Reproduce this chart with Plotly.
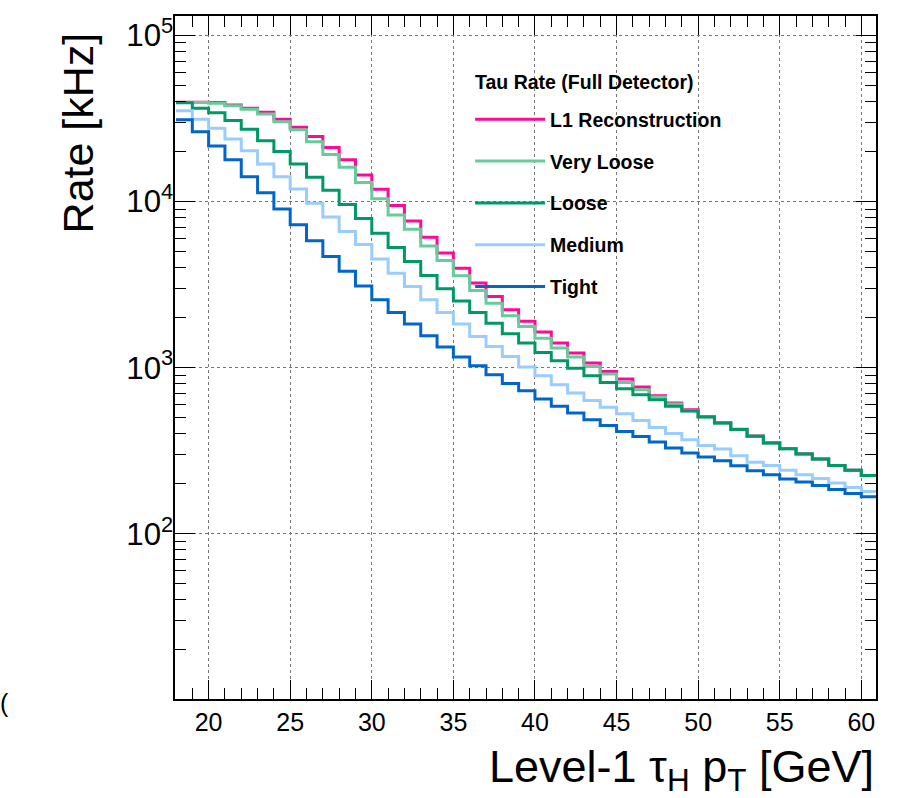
import plotly.graph_objects as go

# Bin lower edges (GeV), 1 GeV bins
bins = list(range(18, 62))

l1_reco = [39600, 39500, 39400, 38100, 36400, 34400, 31200, 28000, 24600, 21100,
           17800, 14450, 11860, 9440, 7640, 6100, 4890, 3970, 3230, 2680,
           2230, 1900, 1640, 1405, 1225, 1066, 948, 854, 764, 678,
           612, 558, 508, 466, 426, 388, 353, 326, 303, 282,
           258, 241, 224, 212]
very_loose = [39400, 39400, 39000, 37600, 35900, 33600, 30200, 27000, 22900, 19200,
              16050, 13000, 10370, 8300, 6810, 5400, 4410, 3570, 2910, 2440,
              2055, 1770, 1505, 1312, 1160, 1016, 915, 815, 736, 665,
              604, 551, 506, 465, 424, 386, 352, 325, 302, 282,
              258, 241, 224, 212]
loose = [39300, 36400, 34200, 30700, 27200, 23200, 19950, 16800, 14000, 11700,
         9600, 7900, 6440, 5280, 4350, 3580, 2980, 2520, 2150, 1850,
         1600, 1405, 1234, 1100, 993, 893, 815, 747, 687, 641,
         585, 548, 505, 464, 424, 386, 352, 325, 302, 282,
         258, 241, 224, 212]
medium = [35100, 31200, 27600, 23800, 20200, 16800, 14100, 11900, 9770, 8050,
          6600, 5500, 4500, 3700, 3080, 2560, 2150, 1830, 1540, 1340,
          1165, 1008, 893, 789, 703, 635, 577, 528, 480, 437,
          401, 368, 340, 324, 295, 270, 258, 241, 227, 215,
          202, 190, 180, 172]
tight = [31000, 26300, 21600, 17800, 14100, 11300, 9000, 7230, 5800, 4660,
         3800, 3100, 2560, 2150, 1830, 1555, 1330, 1160, 1026, 906,
         804, 726, 647, 585, 533, 486, 449, 413, 385, 357,
         328, 306, 290, 275, 257, 240, 227, 214, 205, 195,
         185, 175, 167, 162]

series_names = ["L1 Reconstruction", "Very Loose", "Loose", "Medium", "Tight"]
series_values = [l1_reco, very_loose, loose, medium, tight]
series_colors = ["#FF0A96", "#66CC99", "#009966", "#99CCFF", "#0066CC"]

legend_title = "Tau Rate (Full Detector)"
x_title = "Level-1 τ<sub>H</sub> p<sub>T</sub> [GeV]"
y_title = "Rate [kHz]"

FONT = "Liberation Sans, Arial, Helvetica, sans-serif"

fig = go.Figure()
for name, vals, col in zip(series_names, series_values, series_colors):
    xs = bins + [bins[-1] + 1]
    ys = vals + [vals[-1]]
    fig.add_trace(go.Scatter(
        x=xs, y=ys, mode="lines", name=name, legendgroup=name,
        line=dict(color=col, width=3, shape="hv"),
    ))

axis_common = dict(
    showline=True, linecolor="black", linewidth=1.5, mirror="allticks",
    ticks="inside", tickcolor="black", tickwidth=1,
    showgrid=True, gridcolor="#777777", griddash="dot", gridwidth=1,
    zeroline=False,
    tickfont=dict(family=FONT, size=25, color="black"),
)

fig.update_xaxes(
    range=[17.94, 60.9], tickmode="linear", tick0=20, dtick=5, ticklen=19,
    minor=dict(ticks="inside", ticklen=11, dtick=1, tickcolor="black", showgrid=False),
    **axis_common,
)
fig.update_yaxes(
    type="log", range=[1.006, 5.116], dtick=1, ticklen=20,
    exponentformat="power", ticklabelstandoff=-5,
    minor=dict(ticks="inside", ticklen=11, dtick="D1", tickcolor="black", showgrid=False),
    **axis_common,
)

fig.update_layout(
    width=913, height=798,
    margin=dict(l=175, r=37, t=16, b=99),
    paper_bgcolor="white", plot_bgcolor="white",
    font=dict(family=FONT, color="black"),
    showlegend=True,
    legend=dict(
        x=0.421, y=0.877, xanchor="left", yanchor="top",
        bgcolor="rgba(0,0,0,0)", borderwidth=0,
        font=dict(family=FONT, size=19.5, color="black", weight=700),
        itemwidth=70, tracegroupgap=13.5,
    ),
    annotations=[
        dict(text=legend_title, xref="paper", yref="paper",
             x=0.4253, y=0.9038, xanchor="left", yanchor="middle", showarrow=False,
             font=dict(family=FONT, size=19.5, color="black", weight=700)),
        dict(text=x_title, xref="paper", yref="paper",
             x=1.0, y=-0.103, xanchor="right", yanchor="middle", showarrow=False,
             font=dict(family=FONT, size=45, color="black")),
        dict(text=y_title, xref="paper", yref="paper", textangle=-90,
             x=-0.1385, y=0.9795, xanchor="center", yanchor="top", showarrow=False,
             font=dict(family=FONT, size=43, color="black")),
        dict(text="(", xref="paper", yref="paper",
             x=-0.252, y=-0.006, xanchor="left", yanchor="middle", showarrow=False,
             font=dict(family=FONT, size=25, color="black")),
    ],
)

fig.write_html("out.html", config={"displayModeBar": False},
               post_script="document.body.style.margin='0';")
